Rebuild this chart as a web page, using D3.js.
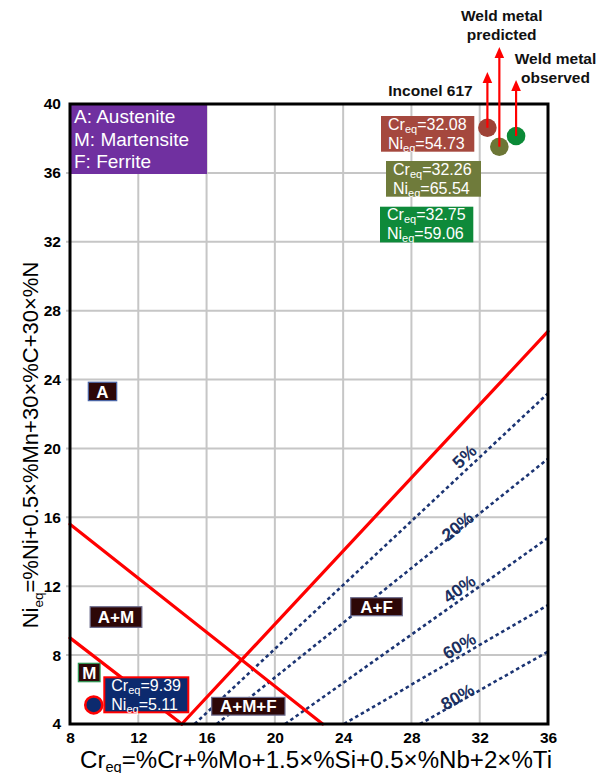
<!DOCTYPE html>
<html>
<head>
<meta charset="utf-8">
<script src="https://cdn.jsdelivr.net/npm/d3@7"></script>
<style>
  html, body { margin: 0; padding: 0; background: #fff; }
  svg { display: block; }
</style>
</head>
<body>
<svg id="chart" width="597" height="773"></svg>
<script>
// ---- Axis ticks ----
const crTicks = [8, 12, 16, 20, 24, 28, 32, 36];
const niTicks = [4, 8, 12, 16, 20, 24, 28, 32, 36, 40];

// ---- Phase boundaries, as [Cr_eq, Ni_eq] end points ----
const boundaryAusteniteMartensite = [[8, 15.6], [22.8, 4]];
const boundaryMartensite = [[8, 9.0], [14.55, 4]];
const boundaryFerrite = [[14.55, 4], [36, 26.8]];

// ---- Iso-ferrite lines: Cr_eq where each meets Ni_eq = 4, Ni_eq where each meets Cr_eq = 36 ----
const ferriteLabels = ["5%", "20%", "40%", "60%", "80%"];
const ferriteCrAtBase = [15.3, 16.6, 20.6, 24.05, 28.5];
const ferriteNiAtEdge = [23.2, 19.4, 14.8, 10.9, 8.2];

// ---- Phase fields ----
const phaseNames = ["A", "A+M", "M", "A+M+F", "A+F"];
const legendLines = ["A: Austenite", "M: Martensite", "F: Ferrite"];

// ---- Base metal (on scale) ----
const baseCr = 9.39;
const baseNi = 5.11;

// ---- Filler / weld metal (Ni_eq above the axis range) ----
const sampleNames = ["Inconel 617", "Weld metal predicted", "Weld metal observed"];
const sampleCr = [32.08, 32.26, 32.75];
const sampleNi = [54.73, 65.54, 59.06];
// where the off-scale markers sit inside the top band of the diagram
const markerCr = [32.45, 33.15, 34.13];
const markerNi = [38.62, 37.52, 38.14];

// ------------------------------------------------------------------
const FONT = '"Liberation Sans", Arial, Helvetica, sans-serif';
const svg = d3.select("#chart").style("font-family", FONT);

const x = d3.scaleLinear().domain([8, 36]).range([70, 548]);
const y = d3.scaleLinear().domain([4, 40]).range([724, 104]);
const line = d3.line().x(d => x(d[0])).y(d => y(d[1]));

// grid
const grid = svg.append("g").attr("stroke", "#c6c6c6").attr("stroke-width", 2);
grid.selectAll("line.gv").data(crTicks.slice(1, -1)).join("line")
  .attr("class", "gv")
  .attr("x1", d => x(d)).attr("x2", d => x(d))
  .attr("y1", y(40)).attr("y2", y(4));
grid.selectAll("line.gh").data(niTicks.slice(1, -1)).join("line")
  .attr("class", "gh")
  .attr("x1", x(8) - 4).attr("x2", x(36))
  .attr("y1", d => y(d)).attr("y2", d => y(d));

// iso-ferrite lines
const ferrite = ferriteLabels.map((lab, i) => ({
  label: lab,
  pts: [[ferriteCrAtBase[i], 4], [36, ferriteNiAtEdge[i]]]
}));
svg.append("g").selectAll("path").data(ferrite).join("path")
  .attr("d", d => line(d.pts))
  .attr("fill", "none")
  .attr("stroke", "#1b3473")
  .attr("stroke-width", 2.6)
  .attr("stroke-dasharray", "3.5 3");

// phase boundaries
svg.append("g").selectAll("path")
  .data([boundaryAusteniteMartensite, boundaryMartensite, boundaryFerrite])
  .join("path")
  .attr("d", line)
  .attr("fill", "none")
  .attr("stroke", "#ff0000")
  .attr("stroke-width", 3.2)
  .attr("stroke-linecap", "round");

// ferrite percentage labels, set along each line
const ferriteLabelCr = [31.1, 30.7, 30.8, 30.8, 30.7];
const ferriteLabelRaise = [15, 5, 12, 11, 6];
svg.append("g").selectAll("text").data(ferrite).join("text")
  .attr("transform", (d, i) => {
    const p0 = [x(d.pts[0][0]), y(d.pts[0][1])];
    const p1 = [x(d.pts[1][0]), y(d.pts[1][1])];
    const ang = Math.atan2(p1[1] - p0[1], p1[0] - p0[0]) * 180 / Math.PI;
    const cx = x(ferriteLabelCr[i]);
    const t = (cx - p0[0]) / (p1[0] - p0[0]);
    const cy = p0[1] + t * (p1[1] - p0[1]) - ferriteLabelRaise[i];
    return `translate(${cx},${cy}) rotate(${ang})`;
  })
  .attr("text-anchor", "middle")
  .attr("dy", "0.35em")
  .attr("font-size", 17.5)
  .attr("font-weight", "bold")
  .attr("fill", "#1b2f5e")
  .text(d => d.label);

// legend
const legend = svg.append("g");
legend.append("rect")
  .attr("x", x(8)).attr("y", y(40) + 1)
  .attr("width", 137).attr("height", 69)
  .attr("fill", "#7030a0");
legend.selectAll("text").data(legendLines).join("text")
  .attr("x", x(8) + 4)
  .attr("y", (d, i) => 123 + i * 22.5)
  .attr("font-size", 19)
  .attr("fill", "#fff")
  .text(d => d);

// plot frame
svg.append("rect")
  .attr("x", x(8)).attr("y", y(40))
  .attr("width", x(36) - x(8)).attr("height", y(4) - y(40))
  .attr("fill", "none")
  .attr("stroke", "#000")
  .attr("stroke-width", 3);

// phase field tags
const phaseLayout = [
  { cr: 9.904, ni: 23.31, w: 28.4, h: 18.4, border: "#4a66a8" },
  { cr: 10.695, ni: 10.21, w: 51.7, h: 20.6, border: "#6a6a8c" },
  { cr: 9.125, ni: 6.99, w: 21.7, h: 18.4, border: "#2e9a55" },
  { cr: 18.445, ni: 5.03, w: 73.3, h: 17.7, border: "#6a6a8c" },
  { cr: 25.955, ni: 10.81, w: 51.6, h: 18.0, border: "#6a6a8c" }
];
const tags = svg.append("g").selectAll("g").data(phaseNames).join("g")
  .attr("transform", (d, i) => `translate(${x(phaseLayout[i].cr)},${y(phaseLayout[i].ni)})`);
tags.append("rect")
  .attr("x", (d, i) => -phaseLayout[i].w / 2)
  .attr("y", (d, i) => -phaseLayout[i].h / 2)
  .attr("width", (d, i) => phaseLayout[i].w)
  .attr("height", (d, i) => phaseLayout[i].h)
  .attr("fill", "#2d0707")
  .attr("stroke", (d, i) => phaseLayout[i].border)
  .attr("stroke-width", 1.2);
tags.append("text")
  .attr("text-anchor", "middle")
  .attr("dy", "0.36em")
  .attr("font-size", 17)
  .attr("font-weight", "bold")
  .attr("fill", "#fff")
  .text(d => d);

// two-line "Cr_eq= / Ni_eq=" value box
function valueBox(g, left, top, w, h, fill, stroke, cr, ni) {
  g.append("rect")
    .attr("x", left).attr("y", top).attr("width", w).attr("height", h)
    .attr("fill", fill)
    .attr("stroke", stroke || "none")
    .attr("stroke-width", stroke ? 2 : 0);
  const rows = [["Cr", cr], ["Ni", ni]];
  rows.forEach((r, i) => {
    const t = g.append("text")
      .attr("x", left + 7)
      .attr("y", top + 13.5 + i * 19)
      .attr("font-size", 16)
      .attr("fill", "#fff");
    t.append("tspan").text(r[0]);
    t.append("tspan").attr("font-size", 11).attr("dy", 3).text("eq");
    t.append("tspan").attr("dy", -3).text("=" + r[1].toFixed(2));
  });
}

// base metal point and its values
const base = svg.append("g");
base.append("circle")
  .attr("cx", x(baseCr)).attr("cy", y(baseNi)).attr("r", 8.5)
  .attr("fill", "#0c2a6e")
  .attr("stroke", "#ff0000")
  .attr("stroke-width", 2.5);
valueBox(base, 104.3, 677.3, 84, 35, "#0c2a6e", "#ff0000", baseCr, baseNi);

// filler / weld metal markers with upward arrows (values above the axis)
const boxFill = ["#a5483e", "#6f7b3b", "#0e8a3a"];
const dotFill = ["#9e4236", "#6c7636", "#0b8a37"];
const boxLeft = [381, 386, 380];
const boxTop = [116, 161, 206.7];
const boxWidth = [93.3, 95, 93.3];
const arrowTip = [72, 47, 80];

const samples = svg.append("g");
sampleNames.forEach((name, i) => {
  valueBox(samples, boxLeft[i], boxTop[i], boxWidth[i], 35.7, boxFill[i], null, sampleCr[i], sampleNi[i]);
});
sampleNames.forEach((name, i) => {
  const cx = x(markerCr[i]), cy = y(markerNi[i]);
  samples.append("circle")
    .attr("cx", cx).attr("cy", cy).attr("r", 9.3)
    .attr("fill", dotFill[i]);
});
sampleNames.forEach((name, i) => {
  const cx = x(markerCr[i]), cy = y(markerNi[i]);
  samples.append("line")
    .attr("x1", cx).attr("x2", cx)
    .attr("y1", cy).attr("y2", arrowTip[i] + 9)
    .attr("stroke", "#ff0000").attr("stroke-width", 2.2);
  samples.append("path")
    .attr("d", `M${cx},${arrowTip[i]} L${cx - 4.8},${arrowTip[i] + 11} L${cx + 4.8},${arrowTip[i] + 11} Z`)
    .attr("fill", "#ff0000");
});

// sample captions
const captions = [
  { lines: ["Inconel 617"], cx: 430.5, y0: 96 },
  { lines: ["Weld metal", "predicted"], cx: 501.7, y0: 21 },
  { lines: ["Weld metal", "observed"], cx: 555.5, y0: 64 }
];
captions.forEach((c, i) => {
  c.lines.forEach((ln, k) => {
    svg.append("text")
      .attr("x", c.cx).attr("y", c.y0 + k * 19)
      .attr("text-anchor", "middle")
      .attr("font-size", 15.5)
      .attr("font-weight", "bold")
      .attr("fill", "#111")
      .text(ln);
  });
});

// axes (tick labels only)
const xAxis = svg.append("g")
  .attr("transform", `translate(0,${y(4)})`)
  .call(d3.axisBottom(x).tickValues(crTicks).tickSize(0).tickPadding(8));
const yAxis = svg.append("g")
  .attr("transform", `translate(${x(8)},0)`)
  .call(d3.axisLeft(y).tickValues(niTicks).tickSize(0).tickPadding(9));
[xAxis, yAxis].forEach(a => {
  a.select(".domain").remove();
  a.attr("font-family", FONT).attr("font-size", 15.5).attr("font-weight", "bold");
  a.selectAll("text").attr("fill", "#000");
});

// axis titles
const xTitle = svg.append("text")
  .attr("x", 316).attr("y", 767.5)
  .attr("text-anchor", "middle")
  .attr("font-size", 23)
  .attr("textLength", 472)
  .attr("lengthAdjust", "spacingAndGlyphs")
  .attr("fill", "#000");
xTitle.append("tspan").text("Cr");
xTitle.append("tspan").attr("font-size", 14).attr("dy", 4).text("eq");
xTitle.append("tspan").attr("dy", -4).text("=%Cr+%Mo+1.5×%Si+0.5×%Nb+2×%Ti");

const yTitle = svg.append("text")
  .attr("transform", "translate(38,445) rotate(-90)")
  .attr("text-anchor", "middle")
  .attr("font-size", 22)
  .attr("fill", "#000");
yTitle.append("tspan").text("Ni");
yTitle.append("tspan").attr("font-size", 13.5).attr("dy", 5).text("eq");
yTitle.append("tspan").attr("dy", -5).text("=%Ni+0.5×%Mn+30×%C+30×%N");
</script>
</body>
</html>
